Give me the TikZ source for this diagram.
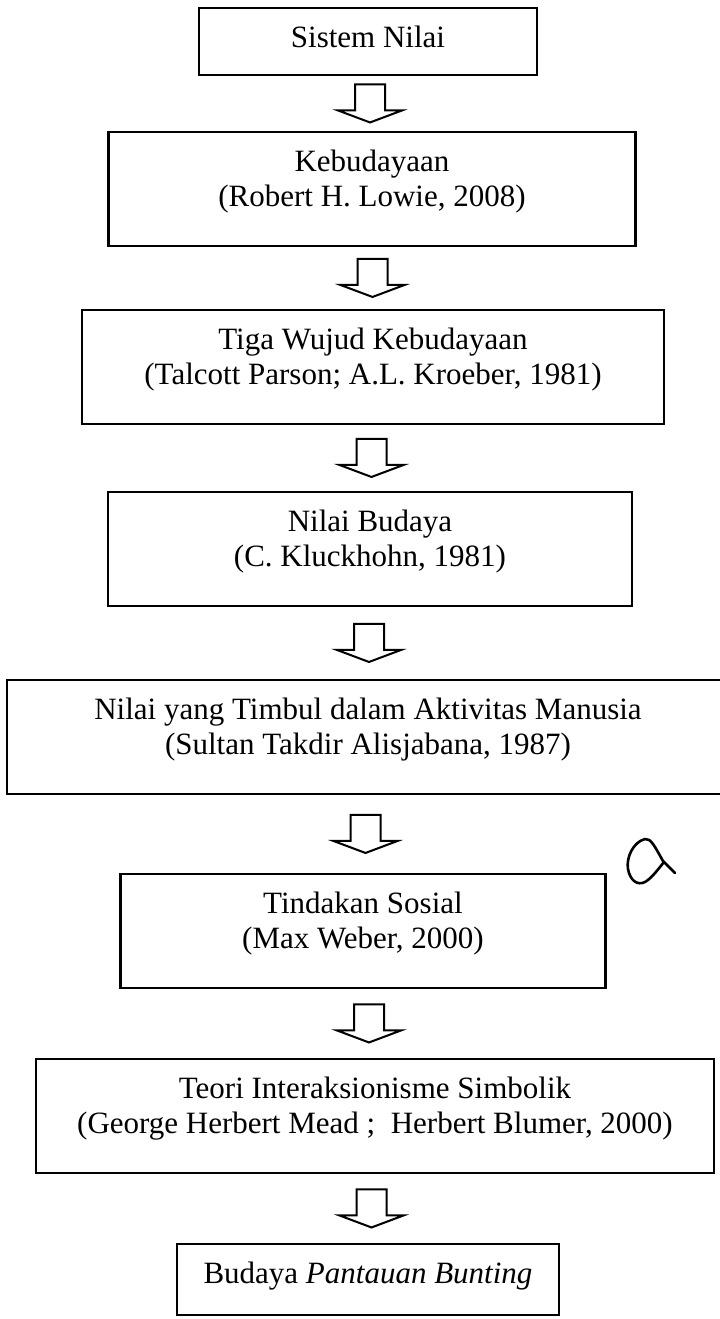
\documentclass[tikz,border=0pt]{standalone}
\usepackage{fontspec}
\setmainfont{Liberation Serif}

\newcommand{\gapbelow}[1]{\rule[-#1]{0pt}{#1}}

\begin{document}
\begin{tikzpicture}[x=0.5pt, y=-0.5pt,
	box/.style={draw, line width=1.2pt, anchor=north, align=center, inner xsep=0pt, inner ysep=9pt, font=\fontsize{15.5pt}{17.5pt}\selectfont},
	blockarrow/.style={draw, line width=1pt, line join=miter}]
	\useasboundingbox (0,0) rectangle (719,1319);

	\node[box, minimum width=169pt] (sistem) at (368,7) {Sistem Nilai\gapbelow{4.5pt}};
	\node[box, minimum width=263.5pt] (kebudayaan) at (372,131) {Kebudayaan\\(Robert H. Lowie, 2008)\gapbelow{10.5pt}};
	\node[box, minimum width=291pt] (tigawujud) at (373,309) {Tiga Wujud Kebudayaan\\(Talcott Parson; A.L. Kroeber, 1981)\gapbelow{10.5pt}};
	\node[box, minimum width=262pt] (nilaibudaya) at (370,491) {Nilai Budaya\\(C. Kluckhohn, 1981)\gapbelow{10.5pt}};
	\node[box, minimum width=361pt] (nilaitimbul) at (368,679) {Nilai yang Timbul dalam Aktivitas Manusia\\(Sultan Takdir Alisjabana, 1987)\gapbelow{10.5pt}};
	\node[box, minimum width=242.5pt] (tindakan) at (363,873) {Tindakan Sosial\\(Max Weber, 2000)\gapbelow{10.5pt}};
	\node[box, minimum width=339pt] (teori) at (375,1058) {Teori Interaksionisme Simbolik\\(George Herbert Mead ;~ Herbert Blumer, 2000)\gapbelow{10.5pt}};
	\node[box, minimum width=191pt] (budaya) at (368,1243) {Budaya \textit{Pantauan Bunting}\gapbelow{6.5pt}};

	% block arrows between the boxes
	\foreach \a/\b in {sistem/kebudayaan, kebudayaan/tigawujud, tigawujud/nilaibudaya, nilaibudaya/nilaitimbul, nilaitimbul/tindakan, tindakan/teori, teori/budaya}{
		\path (\a.south) -- (\b.north) coordinate[midway] (m);
		\draw[blockarrow] (m) ++(-15,-19) -- ++(30,0) -- ++(0,26) -- ++(17,0) -- ++(-32,12) -- ++(-32,-12) -- ++(17,0) -- cycle;
	}

	% handwritten mark
	\draw[line width=1.3pt, line cap=round, line join=round] (675,873) -- (663,861) .. controls (655,847) and (651,838) .. (645,839) .. controls (633,842) and (626,858) .. (628,869) .. controls (630,880) and (637,886) .. (645,882) .. controls (652,878) and (659,868) .. (664,862);
\end{tikzpicture}
\end{document}
